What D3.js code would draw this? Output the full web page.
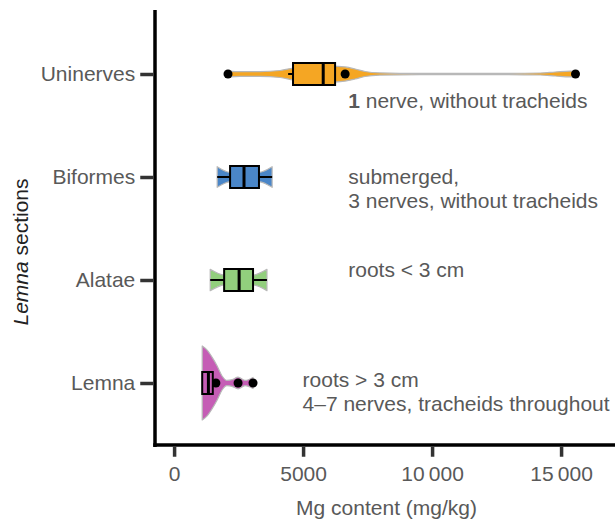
<!DOCTYPE html>
<html>
<head>
<meta charset="utf-8">
<script src="https://cdn.jsdelivr.net/npm/d3@7"></script>
<style>
  body { margin: 0; background: #fff; }
  text { font-family: "Liberation Sans", Arial, Helvetica, sans-serif; }
</style>
</head>
<body>
<svg id="chart" width="615" height="521"></svg>
<script>
// Mg content per Lemna section
const sections = ["Uninerves", "Biformes", "Alatae", "Lemna"];
const fills = ["#F5A623", "#4A86C8", "#92CF7D", "#C55DB5"];
const q1 = [4610, 2170, 1940, 1090];
const median = [5780, 2710, 2520, 1330];
const q3 = [6240, 3290, 3060, 1500];
const whiskerLow = [4420, 1670, 1400, 1090];
const whiskerHigh = [6240, 3800, 3600, 1500];
const outliers = [[2090, 6630, 15560], [], [], [1620, 2480, 3060]];

// violin outlines: [Mg value, relative density]
const densityUninerves = [[2090, 0.08], [2560, 0.065], [3330, 0.065], [4110, 0.095], [4610, 0.16], [5270, 0.215], [6050, 0.215], [6630, 0.19], [7020, 0.135], [7400, 0.068], [7980, 0.03], [9530, 0.016], [12640, 0.015], [14190, 0.027], [14770, 0.054], [15350, 0.08], [15560, 0.07]];
const densityBiformes = [[1670, 0.28], [2170, 0.125], [2710, 0.11], [3290, 0.125], [3800, 0.28]];
const densityAlatae = [[1400, 0.29], [1940, 0.13], [2520, 0.11], [3060, 0.13], [3600, 0.29]];
const densityLemna = [[1090, 1.0], [1280, 0.89], [1470, 0.70], [1670, 0.46], [1860, 0.19], [2050, 0.07], [2250, 0.09], [2480, 0.16], [2750, 0.07], [3060, 0.15]];
const densities = [densityUninerves, densityBiformes, densityAlatae, densityLemna];

const notes = [
  [[{ t: "1", bold: true }, { t: " nerve, without tracheids" }]],
  [[{ t: "submerged," }], [{ t: "3 nerves, without tracheids" }]],
  [[{ t: "roots < 3 cm" }]],
  [[{ t: "roots > 3 cm" }], [{ t: "4\u20137 nerves, tracheids throughout" }]]
];
const noteX = [6750, 6750, 6750, 4980];

const xTicks = [0, 5000, 10000, 15000];
const xTitle = "Mg content (mg/kg)";

const svg = d3.select("#chart");
const textColor = "#595959";
const fontSize = 21;

const x = d3.scaleLinear().domain([-740, 17090]).range([155, 615]);
const y = d3.scalePoint().domain(sections).range([74, 383]);
const w = d3.scaleLinear().domain([0, 1]).range([0, 37]);
const boxHalf = 11;

// violins
sections.forEach((s, i) => {
  const cy = y(s);
  const area = d3.area()
    .x(d => x(d[0]))
    .y0(d => cy - w(d[1]))
    .y1(d => cy + w(d[1]))
    .curve(d3.curveMonotoneX);
  svg.append("path")
    .attr("d", area(densities[i]))
    .attr("fill", fills[i])
    .attr("stroke", "#b8b8b8")
    .attr("stroke-width", 1.2)
    .attr("stroke-linejoin", "round");
});

// boxplots: outliers first, then whiskers and boxes
sections.forEach((s, i) => {
  const cy = y(s);
  const g = svg.append("g");
  outliers[i].forEach(v => {
    g.append("circle").attr("cx", x(v)).attr("cy", cy).attr("r", 4.5).attr("fill", "#000");
  });
  g.append("line")
    .attr("x1", x(whiskerLow[i])).attr("x2", x(q1[i]))
    .attr("y1", cy).attr("y2", cy)
    .attr("stroke", "#000").attr("stroke-width", 2);
  g.append("line")
    .attr("x1", x(q3[i])).attr("x2", x(whiskerHigh[i]))
    .attr("y1", cy).attr("y2", cy)
    .attr("stroke", "#000").attr("stroke-width", 2);
  g.append("rect")
    .attr("x", x(q1[i])).attr("width", x(q3[i]) - x(q1[i]))
    .attr("y", cy - boxHalf).attr("height", boxHalf * 2)
    .attr("fill", fills[i]).attr("stroke", "#000").attr("stroke-width", 2);
  g.append("line")
    .attr("x1", x(median[i])).attr("x2", x(median[i]))
    .attr("y1", cy - boxHalf).attr("y2", cy + boxHalf)
    .attr("stroke", "#000").attr("stroke-width", 3);
});

// annotations
sections.forEach((s, i) => {
  const cy = y(s);
  const baseY = [108, 184, 277, 387][i];
  notes[i].forEach((line, j) => {
    const t = svg.append("text")
      .attr("x", x(noteX[i]))
      .attr("y", baseY + j * 24)
      .attr("font-size", fontSize)
      .attr("fill", textColor);
    line.forEach(part => {
      t.append("tspan").text(part.t).attr("font-weight", part.bold ? "bold" : null);
    });
  });
});

// axes
const axisY = 445, axisX = 155;
svg.append("line").attr("x1", axisX).attr("x2", axisX).attr("y1", 10).attr("y2", axisY + 2)
  .attr("stroke", "#000").attr("stroke-width", 3.5);
svg.append("line").attr("x1", axisX - 1.75).attr("x2", 615).attr("y1", axisY).attr("y2", axisY)
  .attr("stroke", "#000").attr("stroke-width", 3.5);

const fmt = v => v >= 10000 ? d3.format(",")(v).replace(",", "\u2009") : String(v);

const xAxis = svg.append("g").attr("transform", `translate(0,${axisY + 1.75})`)
  .call(d3.axisBottom(x).tickValues(xTicks).tickSize(10).tickPadding(9).tickFormat(fmt));
xAxis.select(".domain").remove();
xAxis.selectAll(".tick line").attr("stroke", "#333").attr("stroke-width", 3.5);
xAxis.selectAll(".tick text").attr("font-size", fontSize).attr("fill", textColor)
  .attr("font-family", "Liberation Sans, Arial, sans-serif");

const yAxis = svg.append("g").attr("transform", `translate(${axisX - 1.75},0)`)
  .call(d3.axisLeft(y).tickSize(13).tickPadding(5));
yAxis.select(".domain").remove();
yAxis.selectAll(".tick line").attr("stroke", "#333").attr("stroke-width", 3.5);
yAxis.selectAll(".tick text").attr("font-size", fontSize).attr("fill", textColor)
  .attr("font-family", "Liberation Sans, Arial, sans-serif");

svg.append("text")
  .attr("x", (x(0) + 615) / 2 - 8).attr("y", 515)
  .attr("text-anchor", "middle").attr("font-size", fontSize).attr("fill", textColor)
  .text(xTitle);

const yt = svg.append("text")
  .attr("transform", "translate(28,252) rotate(-90)")
  .attr("text-anchor", "middle").attr("font-size", fontSize).attr("fill", "#222");
yt.append("tspan").attr("font-style", "italic").text("Lemna");
yt.append("tspan").text(" sections");
</script>
</body>
</html>
